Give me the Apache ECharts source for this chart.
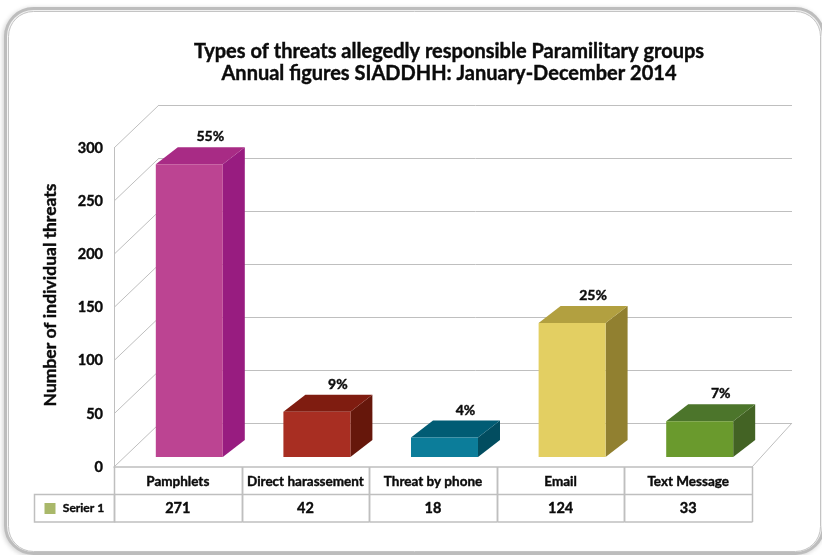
<!DOCTYPE html>
<html>
<head>
<meta charset="utf-8">
<style>html,body{margin:0;padding:0;background:#fff}#chart{width:822px;height:555px}</style>
<script src="https://cdn.jsdelivr.net/npm/echarts@6/dist/echarts.min.js"></script>
</head>
<body>
<div id="chart"></div>
<script>
// Threat counts by type, SIADDHH annual figures 2014
const categories = ['Pamphlets', 'Direct harassement', 'Threat by phone', 'Email', 'Text Message'];
const threatCounts = [271, 42, 18, 124, 33];
const shareLabels = ['55%', '9%', '4%', '25%', '7%'];
const yTicks = [0, 50, 100, 150, 200, 250, 300];
const seriesName = 'Serier 1';
const titleLines = ['Types of threats allegedly responsible Paramilitary groups', 'Annual figures SIADDHH: January-December 2014'];
const yAxisTitle = 'Number of individual threats';

// front, top and side shades of each column
const faceColors = ['#bc4492', '#a82e22', '#0c7d9a', '#e3cf62', '#6a9a2d'];
const topColors = ['#a82b85', '#7f1c10', '#015c74', '#b2a040', '#4c752b'];
const sideColors = ['#981c80', '#66170b', '#024d60', '#918030', '#436324'];

const FONT = 'Lato, "Open Sans", sans-serif';
const LINE = '#bfbfbf';
const INK = '#0b0b0b';
// Thin outline that thickens the bold face
const HEAVY = { textBorderColor: INK, textBorderWidth: 0.4 };
// Receding offset of the wall and of the column boxes
const WALL_DX = 45, WALL_DY = -43;
const BOX_DX = 22, BOX_DY = -17;
const ROW_H = 27.5;

const chart = echarts.init(document.getElementById('chart'), null, { renderer: 'canvas' });

function boldText(x, y, text, size) {
  return {
    type: 'text', x, y,
    style: { text, fill: INK, stroke: INK, lineWidth: 0.4, font: 'bold ' + size + 'px ' + FONT, textAlign: 'center', textVerticalAlign: 'middle' }
  };
}

function renderColumn(params, api) {
  const i = api.value(0), v = api.value(1);
  const base = api.coord([i, 0]);
  const top = api.coord([i, v]);
  const w = api.size([1, 0])[0] * 0.525;
  const x0 = base[0] - w / 2, x1 = base[0] + w / 2, yb = base[1], yt = top[1];
  return {
    type: 'group',
    children: [
      { type: 'polygon', shape: { points: [[x1, yt], [x1 + BOX_DX, yt + BOX_DY], [x1 + BOX_DX, yb + BOX_DY], [x1, yb]] }, style: { fill: sideColors[i] } },
      { type: 'polygon', shape: { points: [[x0, yt], [x1, yt], [x1 + BOX_DX, yt + BOX_DY], [x0 + BOX_DX, yt + BOX_DY]] }, style: { fill: topColors[i] } },
      { type: 'rect', shape: { x: x0, y: yt, width: w, height: yb - yt }, style: { fill: faceColors[i] } },
      boldText(base[0] + BOX_DX - 1, yt + BOX_DY - 10.5, shareLabels[i], 14)
    ]
  };
}

// Slanted lines of the side wall, one per tick
function renderWallTick(params, api) {
  const p = api.coord([0, api.value(0)]);
  const x = p[0] - api.size([1, 0])[0] / 2;
  return { type: 'line', shape: { x1: x, y1: p[1], x2: x + WALL_DX, y2: p[1] + WALL_DY }, style: { stroke: LINE, lineWidth: 1 } };
}

// Right edge of the floor
function renderFloorEdge(params, api) {
  const p = api.coord([categories.length - 1, 0]);
  const x = p[0] + api.size([1, 0])[0] / 2;
  return { type: 'line', shape: { x1: x, y1: p[1], x2: x + 40, y2: p[1] - 44 }, style: { stroke: LINE, lineWidth: 1 } };
}

// Data table under the floor: cell rules and the value row
function renderTableColumn(params, api) {
  const i = api.value(0);
  const p = api.coord([i, 0]);
  const w = api.size([1, 0])[0];
  const x0 = Math.round(p[0] - w / 2) + 0.5, x1 = Math.round(p[0] + w / 2) + 0.5, y0 = p[1];
  const rule = { stroke: LINE, lineWidth: 1.5 };
  return {
    type: 'group',
    children: [
      { type: 'line', shape: { x1: x0, y1: y0, x2: x0, y2: y0 + 2 * ROW_H }, style: rule },
      { type: 'line', shape: { x1: x1, y1: y0, x2: x1, y2: y0 + 2 * ROW_H }, style: rule },
      { type: 'line', shape: { x1: x0, y1: y0 + ROW_H, x2: x1, y2: y0 + ROW_H }, style: rule },
      { type: 'line', shape: { x1: x0, y1: y0 + 2 * ROW_H, x2: x1, y2: y0 + 2 * ROW_H }, style: rule },
      boldText(p[0], y0 + 1.5 * ROW_H, String(api.value(1)), 14.5)
    ]
  };
}

// Legend cell at the start of the value row
function renderLegendCell(params, api) {
  const p = api.coord([0, 0]);
  const right = Math.round(p[0] - api.size([1, 0])[0] / 2) + 0.5;
  const left = right - 80, top = p[1] + ROW_H, h = ROW_H;
  return {
    type: 'group',
    children: [
      { type: 'rect', shape: { x: left, y: top, width: 80, height: h }, style: { fill: 'none', stroke: LINE, lineWidth: 1.5 } },
      { type: 'rect', shape: { x: left + 10, y: top + 8.5, width: 11, height: 11 }, style: { fill: '#a9b86a' } },
      boldText(left + 49, top + h / 2, seriesName, 12)
    ]
  };
}

const indexed = categories.map((c, i) => [i, threatCounts[i]]);

chart.setOption({
  animation: false,
  backgroundColor: '#fff',
  title: {
    text: titleLines.join('\n'),
    left: 444, top: 36, textAlign: 'center',
    textStyle: { fontFamily: FONT, fontWeight: 'bold', fontSize: 20, lineHeight: 22, color: INK, ...HEAVY }
  },
  graphic: [
    { type: 'rect', z: -10, shape: { x: 5.5, y: 8.5, width: 818, height: 545, r: 28 }, style: { fill: '#fff', stroke: '#bdbdbd', lineWidth: 3, shadowBlur: 5, shadowColor: 'rgba(0,0,0,0.15)', shadowOffsetX: -1, shadowOffsetY: 1 } },
    { type: 'rect', z: -9, shape: { x: 8.5, y: 11.5, width: 812, height: 540, r: 25 }, style: { fill: '#fff', stroke: '#c4c4c4', lineWidth: 1 } }
  ],
  grid: [
    { left: 159, width: 633, top: 105, height: 318 }, // back wall
    { left: 114, width: 638, top: 148, height: 319 }, // front plane with the axis labels
    { left: 125.5, width: 638, top: 133, height: 324 } // plane through the columns
  ],
  xAxis: [
    { gridIndex: 0, type: 'category', data: categories, show: false },
    {
      gridIndex: 1, type: 'category', data: categories,
      axisLine: { show: true, lineStyle: { color: LINE, width: 1.5 } },
      axisTick: { show: false },
      axisLabel: { interval: 0, margin: 8, color: INK, fontFamily: FONT, fontWeight: 'bold', fontSize: 13.5, ...HEAVY }
    },
    { gridIndex: 2, type: 'category', data: categories, show: false }
  ],
  yAxis: [
    {
      gridIndex: 0, type: 'value', min: 0, max: 300, interval: 50,
      axisLine: { show: false }, axisTick: { show: false }, axisLabel: { show: false },
      splitLine: { show: true, lineStyle: { color: LINE, width: 1 } }
    },
    {
      gridIndex: 1, type: 'value', min: 0, max: 300, interval: 50,
      axisLine: { show: true, lineStyle: { color: LINE, width: 1 } },
      axisTick: { show: false }, splitLine: { show: false },
      axisLabel: { margin: 11, color: INK, fontFamily: FONT, fontWeight: 'bold', fontSize: 14.5, padding: [0, 0, 2, 0], ...HEAVY }
    },
    {
      gridIndex: 2, type: 'value', min: 0, max: 300, interval: 50,
      axisLine: { show: false }, axisTick: { show: false }, axisLabel: { show: false }, splitLine: { show: false },
      name: yAxisTitle, nameLocation: 'middle', nameRotate: 90, nameGap: 66,
      nameTextStyle: { color: INK, fontFamily: FONT, fontWeight: 'bold', fontSize: 17.5, ...HEAVY }
    }
  ],
  series: [
    { type: 'custom', name: 'wall', xAxisIndex: 1, yAxisIndex: 1, z: 1, silent: true, clip: false, renderItem: renderWallTick, data: yTicks.map(v => [v]), encode: { y: 0 } },
    { type: 'custom', name: 'floor', xAxisIndex: 1, yAxisIndex: 1, z: 1, silent: true, clip: false, renderItem: renderFloorEdge, data: [[0]] },
    { type: 'custom', name: 'table', xAxisIndex: 1, yAxisIndex: 1, z: 3, silent: true, clip: false, renderItem: renderTableColumn, data: indexed },
    { type: 'custom', name: 'legendCell', xAxisIndex: 1, yAxisIndex: 1, z: 3, silent: true, clip: false, renderItem: renderLegendCell, data: [[0]] },
    { type: 'custom', name: seriesName, xAxisIndex: 2, yAxisIndex: 2, z: 5, clip: false, renderItem: renderColumn, data: indexed, encode: { x: 0, y: 1 } }
  ]
});
</script>
</body>
</html>
